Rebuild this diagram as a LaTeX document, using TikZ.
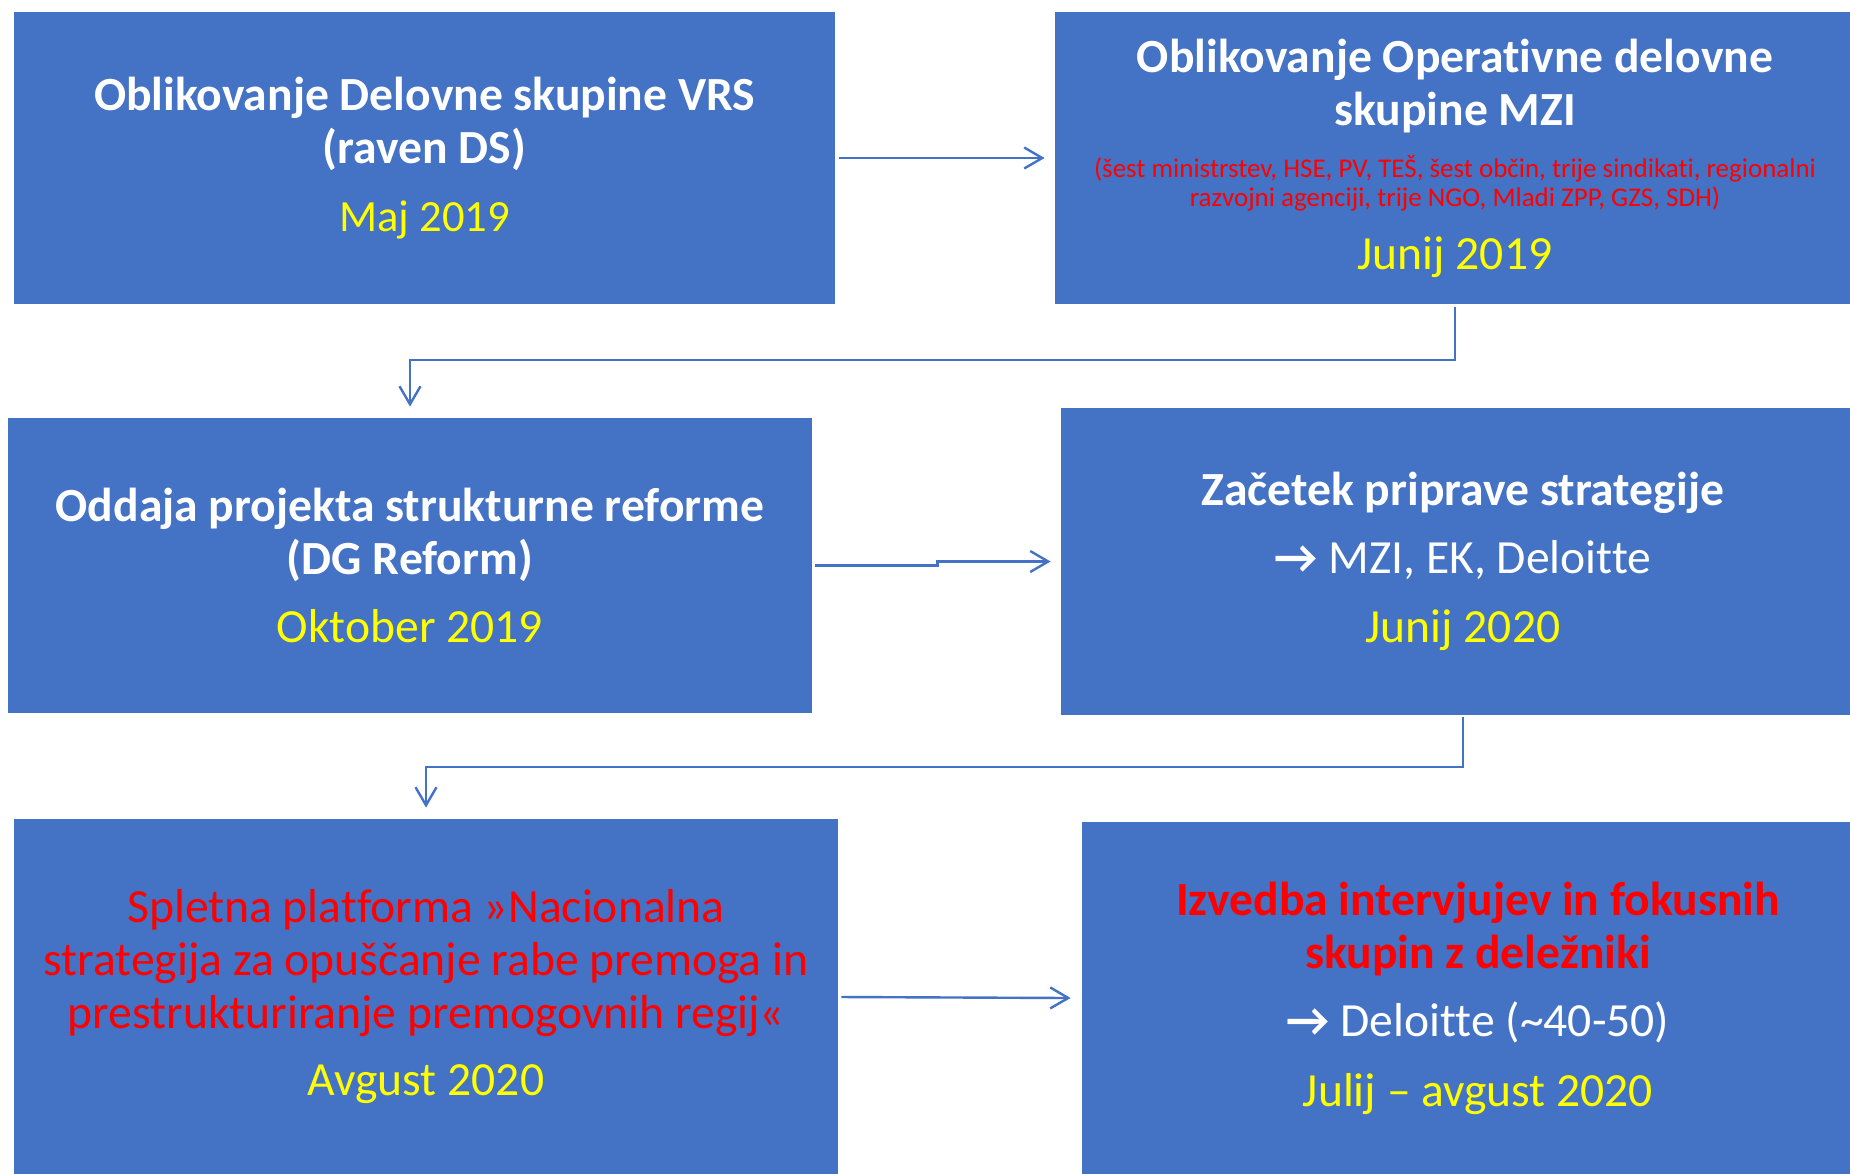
\documentclass[tikz,border=0pt]{standalone}
\usepackage{fontspec}
\setmainfont{Carlito}[Ligatures=CommonOff]
\usetikzlibrary{arrows.meta}

\definecolor{boxblue}{HTML}{4472C4}
\definecolor{datum}{HTML}{FFFF00}
\definecolor{opozorilo}{HTML}{FF0000}
\newcommand{\dat}[1]{{\color{datum}#1}}

\tikzset{
  box/.style={fill=boxblue, text=white, inner xsep=4pt, inner ysep=0pt, align=flush center,
    font=\fontsize{23.8}{26.5}\selectfont},
  arr/.style={draw=boxblue, line width=1.2pt, -{Straight Barb[length=9pt,width=10.5pt]}}
}

\begin{document}
\begin{tikzpicture}[x=0.5pt,y=-0.5pt]
\useasboundingbox (0,0) rectangle (1850,1173);
\fill[white] (0,0) rectangle (1850,1173);
\clip (0,0) rectangle (1850,1173);

\node[box, text width=402.5pt, minimum height=146pt] (vrs) at (424.5,158)
  {\textbf{Oblikovanje Delovne skupine VRS\\(raven DS)}\\[7.5pt]{\fontsize{22.3}{26.5}\selectfont\dat{Maj 2019}}};
\node[box, text width=392pt, minimum height=146pt] (mzi) at (1455,158)
  {\textbf{Oblikovanje Operativne delovne\\skupine MZI}\par
   \vspace{10.5pt}{\fontsize{13.5}{14.2}\selectfont\color{opozorilo}(šest ministrstev, HSE, PV, TEŠ, šest občin, trije sindikati, regionalni\\razvojni agenciji, trije NGO, Mladi ZPP, GZS, SDH)\par}
   \vspace{5pt}\dat{Junij 2019}};
\node[box, text width=394pt, minimum height=147.5pt] (reforma) at (410,565.5)
  {\textbf{Oddaja projekta strukturne reforme\\(DG Reform)}\\[7.5pt]\dat{Oktober 2019}};
\node[box, text width=394pt, minimum height=153.5pt] (priprava) at (1463,561.5)
  {\textbf{Začetek priprave strategije}\\[7.5pt]\textbf{→} MZI, EK, Deloitte\\[8pt]\dat{Junij 2020}};
\node[box, text width=404pt, minimum height=178pt] (platforma) at (426,997)
  {{\color{opozorilo}Spletna platforma »Nacionalna\\strategija za opuščanje rabe premoga in\\prestrukturiranje premogovnih regij«}\\[7pt]\dat{Avgust 2020}};
\node[box, text width=388pt, minimum height=176pt] (intervjuji) at (1478,998)
  {{\bfseries\color{opozorilo}Izvedba intervjujev in fokusnih\\skupin z deležniki}\\[7.5pt]\textbf{→} Deloitte (\textasciitilde 40-50)\\[8.5pt]\dat{Julij – avgust 2020}};

\coordinate (k1) at (0,360);
\coordinate (k2) at (0,767);
\draw[arr] ([xshift=2pt]vrs.east) -- ([xshift=-5pt]mzi.west);
\draw[arr] ([yshift=-1.5pt]mzi.south) |- (k1 -| reforma.north) -- ([yshift=5.5pt]reforma.north);
\draw[arr] ([xshift=1.5pt]reforma.east) -- ++(122,0) |- ([xshift=-5pt]priprava.west);
\draw[arr] ([yshift=-1pt]priprava.south) |- (k2 -| platforma.north) -- ([yshift=5.5pt]platforma.north);
\draw[arr] ([xshift=1.5pt]platforma.east) -- ([xshift=-5.5pt]intervjuji.west);
\end{tikzpicture}
\end{document}
